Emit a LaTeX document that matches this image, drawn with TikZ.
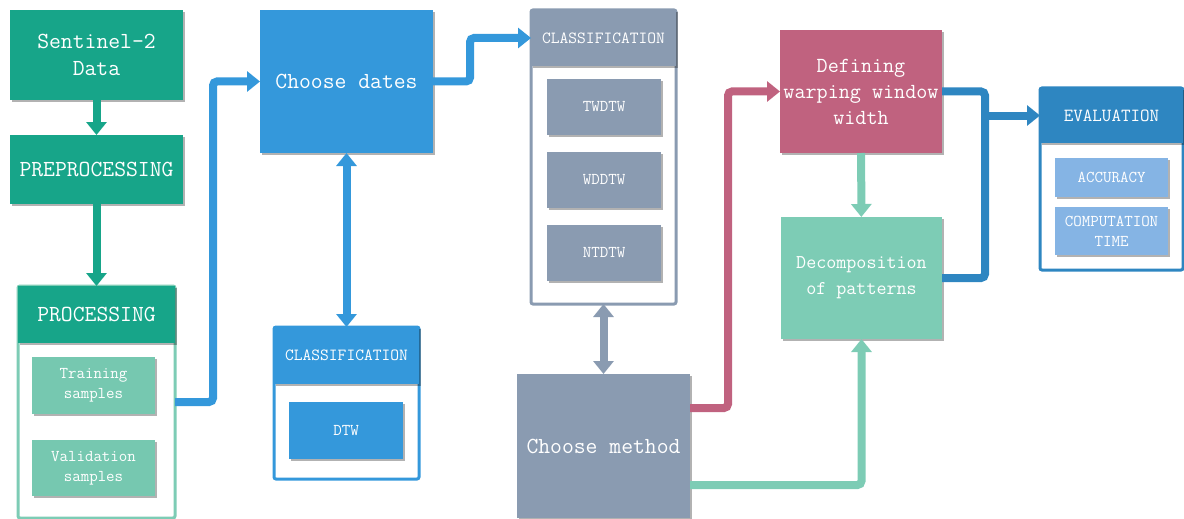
\documentclass[tikz,border=0pt]{standalone}
\usepackage{tikz}
\usetikzlibrary{arrows.meta,shadows,positioning,calc}

\definecolor{tealdark}{RGB}{23,165,137}
\definecolor{tealpale}{RGB}{125,204,181}
\definecolor{tealbox}{RGB}{118,200,176}
\definecolor{bluemain}{RGB}{52,152,219}
\definecolor{bluedark}{RGB}{46,134,193}
\definecolor{bluelight}{RGB}{133,180,228}
\definecolor{graymain}{RGB}{138,155,177}
\definecolor{pinkmain}{RGB}{192,98,127}

\tikzset{
	box/.style={anchor=north west, inner sep=0pt, outer sep=0pt, align=center, text=white,
		drop shadow={shadow xshift=1.5pt, shadow yshift=-2pt, opacity=0.3, fill=black}},
	frame/.style={anchor=north west, draw, fill=white, line width=3pt, rounded corners=2pt, inner sep=0pt, outer sep=0pt},
	big/.style={font=\fontsize{23}{27}\selectfont\ttfamily},
	mid/.style={font=\fontsize{17}{21}\selectfont\ttfamily},
	small/.style={font=\fontsize{16.5}{20}\selectfont\ttfamily},
	tip/.tip={Triangle[width=20pt, length=13pt]},
	flow/.style={line width=8pt, rounded corners=4pt, -tip},
	flowboth/.style={line width=8pt, tip-tip},
}

\begin{document}
\begin{tikzpicture}[x=1pt, y=-1pt]
	\useasboundingbox (0,0) rectangle (1184,519);

	% input and preprocessing
	\node[box, big, fill=tealdark, minimum width=173pt, minimum height=90pt] (sentinel) at (10,10) {Sentinel-2\\Data};
	\node[box, big, fill=tealdark, minimum width=173pt, minimum height=69pt] (preproc) at (10,135) {PREPROCESSING};

	% processing group
	\node[frame, draw=tealpale, minimum width=157pt, minimum height=232pt] (procframe) at (18,286) {};
	\node[box, big, fill=tealdark, minimum width=157pt, minimum height=57pt] (prochead) at (18,286) {PROCESSING};
	\node[box, small, fill=tealbox, minimum width=123pt, minimum height=57pt] (train) at (32,357) {Training\\samples};
	\node[box, small, fill=tealbox, minimum width=123pt, minimum height=56pt] (valid) at (32,440) {Validation\\samples};

	% dates and DTW
	\node[box, big, fill=bluemain, minimum width=173pt, minimum height=143pt] (dates) at (260,10) {Choose dates};
	\node[frame, draw=bluemain, minimum width=145pt, minimum height=152pt] (dtwframe) at (274,327) {};
	\node[box, mid, fill=bluemain, minimum width=145pt, minimum height=57pt] (dtwhead) at (274,327) {CLASSIFICATION};
	\node[box, small, fill=bluemain, minimum width=114pt, minimum height=57pt] (dtw) at (289,402) {DTW};

	% methods
	\node[frame, draw=graymain, minimum width=145pt, minimum height=294pt] (methframe) at (531,10) {};
	\node[box, mid, fill=graymain, minimum width=145pt, minimum height=56pt] (methhead) at (531,10) {CLASSIFICATION};
	\node[box, small, fill=graymain, minimum width=114pt, minimum height=56pt] (twdtw) at (547,79) {TWDTW};
	\node[box, small, fill=graymain, minimum width=114pt, minimum height=56pt] (wddtw) at (547,152) {WDDTW};
	\node[box, small, fill=graymain, minimum width=114pt, minimum height=56pt] (ntdtw) at (547,225) {NTDTW};
	\node[box, big, fill=graymain, minimum width=173pt, minimum height=144pt] (method) at (517,374) {Choose method};

	% window and decomposition
	\node[box, font=\fontsize{21.5}{26}\selectfont\ttfamily, fill=pinkmain, minimum width=162pt, minimum height=123pt] (window) at (780,30) {Defining\\warping window\\width};
	\node[box, font=\fontsize{19.5}{26}\selectfont\ttfamily, fill=tealpale, minimum width=161pt, minimum height=122pt] (decomp) at (781,217) {Decomposition\\of patterns};

	% evaluation group
	\node[frame, draw=bluedark, minimum width=143pt, minimum height=182pt] (evalframe) at (1040,88) {};
	\node[box, font=\fontsize{18.5}{22}\selectfont\ttfamily, fill=bluedark, minimum width=143pt, minimum height=55pt] (evalhead) at (1040,88) {EVALUATION};
	\node[box, small, fill=bluelight, minimum width=113pt, minimum height=39pt] (acc) at (1055,158) {ACCURACY};
	\node[box, small, fill=bluelight, minimum width=113pt, minimum height=48pt] (comptime) at (1055,207) {COMPUTATION\\TIME};

	% connectors
	\draw[flow, tealdark] (sentinel) -- (preproc);
	\draw[flow, tealdark] (preproc) -- (prochead);
	\draw[flow, bluemain] (procframe.east) -- ++(38,0) |- (dates.west);
	\draw[flow, bluemain] (dates.east) -- ++(37,0) |- (methhead.west);
	\draw[flowboth, bluemain] (dates.south) -- (dtwframe.north);
	\draw[flowboth, graymain] (methframe.south) -- (method.north);
	\draw[flow, pinkmain] ([yshift=38pt]method.east) -- ++(38,0) |- (window.west);
	\draw[flow, tealpale] ([yshift=-39pt]method.east) -| (decomp.south);
	\draw[flow, tealpale] (window) -- (decomp);

	% joining both results
	\path (evalhead.west) -- ++(-55,0) coordinate (split);
	\draw[line width=8pt, rounded corners=4pt, bluedark] (window.east) -| (split) |- (decomp.east);
	\draw[flow, bluedark] (split) -- (evalhead.west);
\end{tikzpicture}
\end{document}
